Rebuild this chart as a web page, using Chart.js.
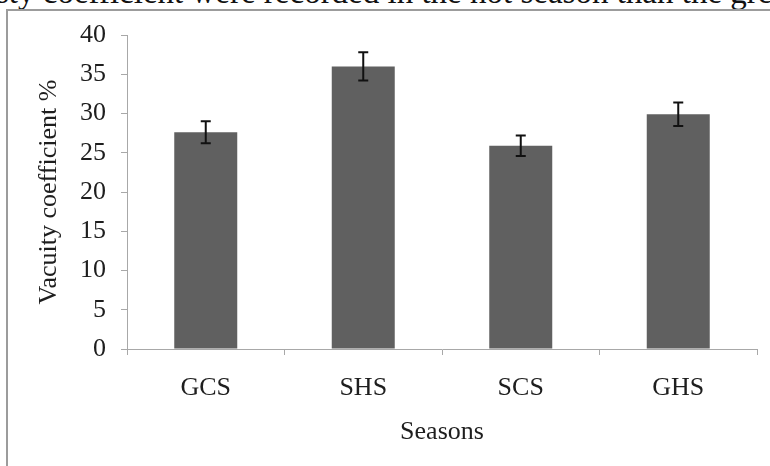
<!DOCTYPE html>
<html>
<head>
<meta charset="utf-8">
<script src="https://cdn.jsdelivr.net/npm/chart.js@4.4.0/dist/chart.umd.min.js"></script>
<style>
  html, body { margin: 0; padding: 0; background: #fff; overflow: hidden; }
  #page { position: relative; width: 770px; height: 466px; overflow: hidden; }
  #topline {
    position: absolute; left: -4px; top: -8px; height: 0; white-space: nowrap;
    font-family: "Liberation Serif", serif; font-size: 33px; line-height: 0; color: #111;
  }
  #frame {
    position: absolute; left: 6px; top: 9px; width: 780px; height: 480px;
    border-top: 2px solid #9c9c9c; border-left: 2px solid #9c9c9c;
  }
  #wrap { position: absolute; left: 0; top: 0; width: 770px; height: 466px; }
</style>
</head>
<body>
<div id="page">
  <div id="topline">sty coefficient were recorded in the hot season than the greater</div>
  <div id="frame"></div>
  <div id="wrap"><canvas id="c"></canvas></div>
</div>
<script>
// values
const seasons = ['GCS', 'SHS', 'SCS', 'GHS'];
const vacuity = [27.6, 36.0, 25.9, 29.9];
const vacuityErr = [1.4, 1.8, 1.3, 1.5];
const yTicks = [0, 5, 10, 15, 20, 25, 30, 35, 40];

const axisGray = '#a8a8a8';
const txt = '#1e1e1e';
const serif = '"Liberation Serif", "Times New Roman", serif';

// simple error bar plugin
const errorBars = {
  id: 'errorBars',
  afterDatasetsDraw(chart) {
    const ctx = chart.ctx;
    const y = chart.scales.y;
    const meta = chart.getDatasetMeta(0);
    ctx.save();
    ctx.strokeStyle = '#111';
    ctx.lineWidth = 2;
    meta.data.forEach((bar, i) => {
      const hi = y.getPixelForValue(vacuity[i] + vacuityErr[i]);
      const lo = y.getPixelForValue(vacuity[i] - vacuityErr[i]);
      const cx = bar.x;
      ctx.beginPath();
      ctx.moveTo(cx, hi); ctx.lineTo(cx, lo);
      ctx.moveTo(cx - 5, hi); ctx.lineTo(cx + 5, hi);
      ctx.moveTo(cx - 5, lo); ctx.lineTo(cx + 5, lo);
      ctx.stroke();
    });
    ctx.restore();
  }
};

new Chart(document.getElementById('c'), {
  type: 'bar',
  data: {
    labels: seasons,
    datasets: [{
      label: 'Vacuity coefficient %',
      data: vacuity,
      backgroundColor: '#606060',
      borderWidth: 0,
      barPercentage: 0.4,
      categoryPercentage: 1.0
    }]
  },
  options: {
    responsive: true,
    maintainAspectRatio: false,
    animation: false,
    layout: { padding: { left: 0, right: 13, top: 35, bottom: 0 } },
    plugins: { legend: { display: false }, tooltip: { enabled: false } },
    scales: {
      x: {
        grid: { drawOnChartArea: false, drawTicks: true, tickLength: 6, color: axisGray, offset: true },
        border: { display: true, color: axisGray, width: 1 },
        ticks: { color: txt, padding: 18, font: { family: serif, size: 26 } },
        title: { display: true, text: 'Seasons', color: txt, font: { family: serif, size: 26 }, padding: { top: 0, bottom: 18 } },
        afterFit(s) { s.height = 117; }
      },
      y: {
        min: 0, max: 40,
        afterBuildTicks(s) { s.ticks = yTicks.map(v => ({ value: v })); },
        grid: { drawOnChartArea: false, drawTicks: true, tickLength: 6, color: axisGray },
        border: { display: true, color: axisGray, width: 1 },
        ticks: { color: txt, padding: 15, font: { family: serif, size: 26 } },
        title: { display: true, text: 'Vacuity coefficient %', color: txt, font: { family: serif, size: 26 }, padding: { top: 34, bottom: 0 } },
        afterFit(s) { s.width = 127; }
      }
    }
  },
  plugins: [errorBars]
});
</script>
</body>
</html>
